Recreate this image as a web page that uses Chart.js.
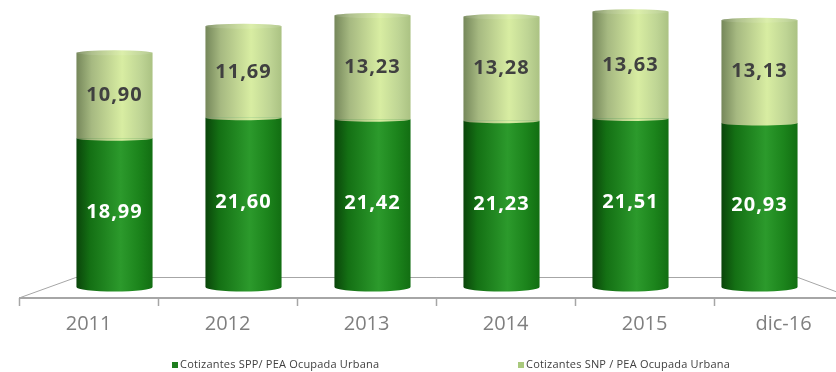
<!DOCTYPE html>
<html>
<head>
<meta charset="utf-8">
<script src="https://cdn.jsdelivr.net/npm/chart.js@4.4.1/dist/chart.umd.min.js"></script>
<style>
    body { margin: 0; background: #fff; }
    #cotizantes_chart { display: block; }
</style>
</head>
<body>
<canvas id="cotizantes_chart" width="836" height="372"></canvas>
<script>
// categories and values (% of urban employed EAP)
const categories = ['2011', '2012', '2013', '2014', '2015', 'dic-16'];
const sppValues = [18.99, 21.60, 21.42, 21.23, 21.51, 20.93];
const snpValues = [10.90, 11.69, 13.23, 13.28, 13.63, 13.13];
const seriesNames = ['Cotizantes SPP/ PEA Ocupada Urbana', 'Cotizantes SNP / PEA Ocupada Urbana'];

const BAR_PCT = 0.59;

// shading across a cylinder, left to right
const darkStops = [[0, '#0a450a'], [0.18, '#147014'], [0.58, '#2c9a2c'], [0.82, '#1c841c'], [1, '#126e12']];
const lightStops = [[0, '#75875a'], [0.2, '#a6b981'], [0.6, '#d8eda2'], [0.85, '#bed494'], [1, '#abc283']];
const legendColors = ['#1e7e1e', '#a9c97d'];

const fmt = (v) => v.toFixed(2).replace('.', ',');

const makeGradient = (ctx, x0, x1, stops) => {
    const g = ctx.createLinearGradient(x0, 0, x1, 0);
    stops.forEach(s => g.addColorStop(s[0], s[1]));
    return g;
};

// gradient per bar, built from the x scale position of that bar
const barFill = (stops, fallback) => (context) => {
    const chart = context.chart;
    const xScale = chart.scales.x;
    if (!chart.chartArea || !xScale || context.dataIndex === undefined) {
        return fallback;
    }
    const cx = xScale.getPixelForValue(context.dataIndex);
    const half = (chart.chartArea.width / categories.length) * BAR_PCT / 2;
    return makeGradient(chart.ctx, cx - half, cx + half, stops);
};

// floor, cylinder caps, value labels, category labels and legend
const cylinderPlugin = {
    id: 'cylinders',
    beforeDatasetsDraw(chart) {
        const ctx = chart.ctx;
        const area = chart.chartArea;
        const xScale = chart.scales.x;
        const yZero = chart.scales.y.getPixelForValue(0);
        const cx = (area.left + area.right) / 2 - 1;
        const backY = yZero - 10;
        const frontY = yZero + 11;
        const back = (x) => cx + (x - cx) * 0.933;
        const front = (x) => cx + (x - cx) * 1.0775 - 1;

        ctx.save();
        ctx.strokeStyle = '#a6a6a6';
        ctx.lineWidth = 1;
        ctx.beginPath();
        ctx.moveTo(front(area.left), frontY);
        ctx.lineTo(back(area.left), backY + 0.5);
        ctx.lineTo(back(area.right), backY + 0.5);
        ctx.lineTo(front(area.right), frontY);
        ctx.stroke();

        ctx.lineWidth = 2;
        ctx.beginPath();
        ctx.moveTo(front(area.left), frontY);
        ctx.lineTo(front(area.right), frontY);
        ctx.stroke();

        // ticks between categories on the front edge
        const step = area.width / categories.length;
        ctx.lineWidth = 1.5;
        ctx.beginPath();
        for (let i = 0; i <= categories.length; i++) {
            const tx = Math.round(front(area.left + i * step)) + 0.5;
            ctx.moveTo(tx, frontY);
            ctx.lineTo(tx, frontY + 8);
        }
        ctx.stroke();

        // category labels
        ctx.fillStyle = '#7f7f7f';
        ctx.font = '20px "Open Sans"';
        ctx.textAlign = 'center';
        ctx.textBaseline = 'middle';
        categories.forEach((c, i) => {
            ctx.fillText(c, front(xScale.getPixelForValue(i)), frontY + 26);
        });

        // legend
        const legendX = [172, 518];
        const legendY = 365;
        ctx.font = '11px "Open Sans"';
        ctx.letterSpacing = '0.2px';
        ctx.textAlign = 'left';
        seriesNames.forEach((name, i) => {
            ctx.fillStyle = legendColors[i];
            ctx.fillRect(legendX[i], legendY - 3, 6, 6);
            ctx.fillStyle = '#404040';
            ctx.fillText(name, legendX[i] + 8, legendY);
        });
        ctx.letterSpacing = '0px';
        ctx.restore();
    },
    afterDatasetsDraw(chart) {
        const ctx = chart.ctx;
        const lower = chart.getDatasetMeta(0).data;
        const upper = chart.getDatasetMeta(1).data;

        ctx.save();
        lower.forEach((bar, i) => {
            const top = upper[i];
            const rx = bar.width / 2;
            const x0 = bar.x - rx;
            const x1 = bar.x + rx;

            // rounded bottom of the dark cylinder
            ctx.fillStyle = makeGradient(ctx, x0, x1, darkStops);
            ctx.beginPath();
            ctx.ellipse(bar.x, bar.base, rx, 4.5, 0, 0, Math.PI);
            ctx.fill();

            // light segment curving over the dark one
            ctx.fillStyle = makeGradient(ctx, x0, x1, lightStops);
            ctx.beginPath();
            ctx.ellipse(top.x, top.base, rx, 2.5, 0, 0, Math.PI);
            ctx.fill();

            // top cap
            ctx.beginPath();
            ctx.ellipse(top.x, top.y, rx, 2.5, 0, 0, Math.PI * 2);
            ctx.fill();
            ctx.fillStyle = 'rgba(255,255,255,0.1)';
            ctx.fill();
        });

        // value labels in the middle of each segment
        ctx.font = 'bold 20px "Open Sans"';
        ctx.letterSpacing = '1px';
        ctx.textAlign = 'center';
        ctx.textBaseline = 'middle';
        lower.forEach((bar, i) => {
            ctx.fillStyle = '#ffffff';
            ctx.fillText(fmt(sppValues[i]), bar.x, (bar.y + bar.base) / 2);
            const top = upper[i];
            ctx.fillStyle = '#404040';
            ctx.fillText(fmt(snpValues[i]), top.x, (top.y + top.base) / 2);
        });
        ctx.letterSpacing = '0px';
        ctx.restore();
    }
};

new Chart('cotizantes_chart', {
    type: 'bar',
    data: {
        labels: categories,
        datasets: [
            {
                label: seriesNames[0],
                data: sppValues,
                backgroundColor: barFill(darkStops, legendColors[0]),
                borderWidth: 0,
                barPercentage: BAR_PCT,
                categoryPercentage: 1
            },
            {
                label: seriesNames[1],
                data: snpValues,
                backgroundColor: barFill(lightStops, legendColors[1]),
                borderWidth: 0,
                barPercentage: BAR_PCT,
                categoryPercentage: 1
            }
        ]
    },
    options: {
        responsive: false,
        animation: false,
        layout: {
            padding: { left: 50, right: 12, top: 5, bottom: 85 }
        },
        plugins: {
            legend: { display: false },
            tooltip: { enabled: false }
        },
        scales: {
            x: { stacked: true, display: false },
            y: { stacked: true, display: false, min: 0, max: 36 }
        }
    },
    plugins: [cylinderPlugin]
});
</script>
</body>
</html>
